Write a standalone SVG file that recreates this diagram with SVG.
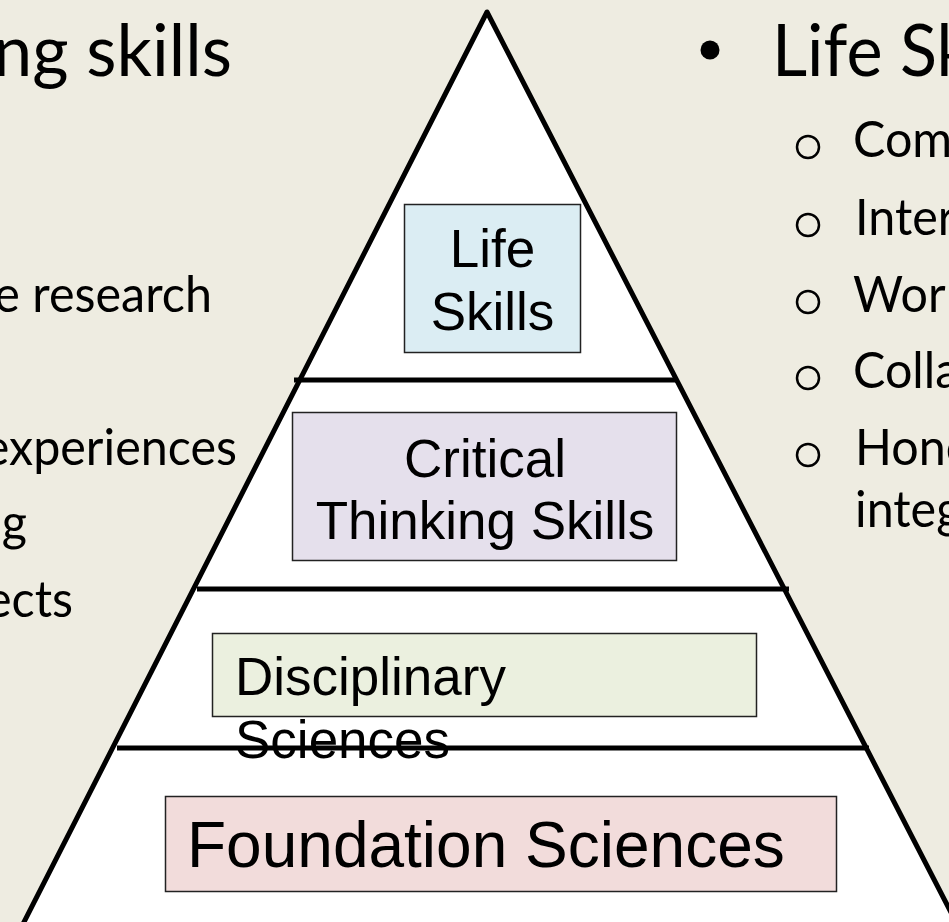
<svg xmlns="http://www.w3.org/2000/svg" width="949" height="922" viewBox="0 0 949 922">
  <style>
    .side { font-family: Lato, "Open Sans", "Liberation Sans", sans-serif; fill: #000; }
    .head { font-size: 72px; }
    .body { font-size: 51px; }
    .box { stroke: #222; stroke-width: 1.5; }
    .lbl { font-family: "Liberation Sans", Arial, sans-serif; font-size: 53px; fill: #000; }
    .rule { stroke: #000; stroke-width: 5; }
    .sub { fill: none; stroke: #000; stroke-width: 2.5; }
  </style>

  <!-- slide background -->
  <rect x="0" y="0" width="949" height="922" fill="#EEECE1"/>

  <!-- left column, running off the left edge (slightly condensed type) -->
  <g id="left-text" class="side">
    <text class="head" transform="translate(232,76) scale(0.97,1)" text-anchor="end">ng skills</text>
    <text class="body" transform="translate(212,312) scale(0.95,1)" text-anchor="end">e research</text>
    <text class="body" transform="translate(237,465) scale(0.95,1)" text-anchor="end">experiences</text>
    <text class="body" transform="translate(27,540) scale(0.95,1)" text-anchor="end">g</text>
    <text class="body" transform="translate(73,617) scale(0.95,1)" text-anchor="end">ects</text>
  </g>

  <!-- right column, running off the right edge -->
  <g id="right-text" class="side">
    <circle cx="710" cy="50" r="9.5" fill="#000"/>
    <text class="head" transform="translate(772,76) scale(0.95,1)">Life Sk</text>
    <circle class="sub" cx="808" cy="147" r="11"/>
    <text class="body" transform="translate(853,157) scale(0.95,1)">Com</text>
    <circle class="sub" cx="808" cy="225" r="11"/>
    <text class="body" transform="translate(855,235) scale(0.95,1)">Inter</text>
    <circle class="sub" cx="808" cy="302" r="11"/>
    <text class="body" transform="translate(853,312) scale(0.95,1)">Wor</text>
    <circle class="sub" cx="808" cy="378" r="11"/>
    <text class="body" transform="translate(853,388) scale(0.95,1)">Colla</text>
    <circle class="sub" cx="808" cy="455" r="11"/>
    <text class="body" transform="translate(855,465) scale(0.95,1)">Hone</text>
    <text class="body" transform="translate(855,527) scale(0.95,1)">integ</text>
  </g>

  <!-- pyramid outline -->
  <g id="pyramid">
    <polygon points="487,12 22,926 958,926" fill="#FFFFFF" stroke="#000" stroke-width="5" stroke-linejoin="round"/>
  </g>

  <!-- tier dividers -->
  <g id="dividers">
    <line class="rule" x1="294" y1="380" x2="678" y2="380"/>
    <line class="rule" x1="197" y1="589" x2="789" y2="589"/>
    <line class="rule" x1="117" y1="748" x2="869" y2="748"/>
  </g>

  <g id="life-skills">
    <rect class="box" x="404.5" y="204.5" width="176" height="148" fill="#DBEDF3"/>
    <text class="lbl" x="492.5" y="267" text-anchor="middle">Life</text>
    <text class="lbl" x="492.5" y="330" text-anchor="middle">Skills</text>
  </g>

  <g id="critical-thinking">
    <rect class="box" x="292.5" y="412.5" width="384" height="148" fill="#E5E0EC"/>
    <text class="lbl" x="485" y="477" text-anchor="middle">Critical</text>
    <text class="lbl" x="485" y="539" text-anchor="middle">Thinking Skills</text>
  </g>

  <g id="disciplinary-sciences">
    <rect class="box" x="212.5" y="633.5" width="544" height="83" fill="#EBF0DF"/>
    <text class="lbl" x="235" y="695">Disciplinary</text>
    <text class="lbl" x="235" y="758">Sciences</text>
  </g>

  <g id="foundation-sciences">
    <rect class="box" x="165.5" y="796.5" width="671" height="95" fill="#F2DCDB"/>
    <text class="lbl" x="187" y="867" style="font-size:64px">Foundation Sciences</text>
  </g>
</svg>
